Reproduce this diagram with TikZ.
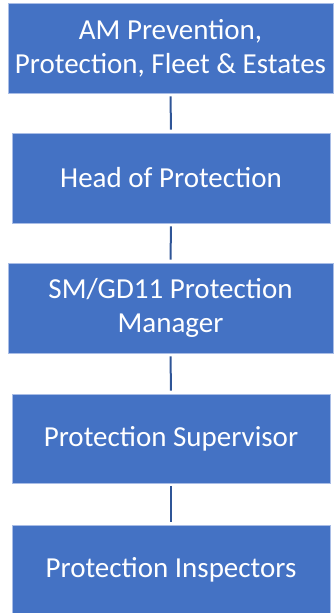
\documentclass[tikz,border=0pt]{standalone}
\usepackage{fontspec}
\setmainfont{Carlito}
\definecolor{boxblue}{HTML}{4472C4}
\definecolor{edgeblue}{HTML}{A9BDE6}
\definecolor{linkblue}{HTML}{2F5597}
\begin{document}
\begin{tikzpicture}[x=1pt,y=-1pt,
  orgbox/.style={rectangle, fill=boxblue, draw=edgeblue, line width=0.8pt, text=white,
    font=\fontsize{29}{34}\selectfont, align=center, inner sep=0pt},
  link/.style={draw=linkblue, line width=2pt, shorten <=3pt, shorten >=3pt}]
\useasboundingbox (0,0) rectangle (335,613);
\node[orgbox, minimum width=325pt, minimum height=90pt] (a) at (170.5,48) {AM Prevention,\\Protection, Fleet \& Estates};
\node[orgbox, minimum width=318pt, minimum height=90pt] (b) at (171,178) {Head of Protection};
\node[orgbox, minimum width=325pt, minimum height=90pt] (c) at (170.5,308) {SM/GD11 Protection\\Manager};
\node[orgbox, minimum width=318pt, minimum height=89pt] (d) at (171,438.5) {Protection Supervisor};
\node[orgbox, minimum width=318pt, minimum height=90pt] (e) at (171,570) {Protection Inspectors};
\draw[link] (a.south) -- (b.north);
\draw[link] (b.south) -- (c.north);
\draw[link] (c.south) -- (d.north);
\draw[link] (d.south) -- (e.north);
\end{tikzpicture}
\end{document}
